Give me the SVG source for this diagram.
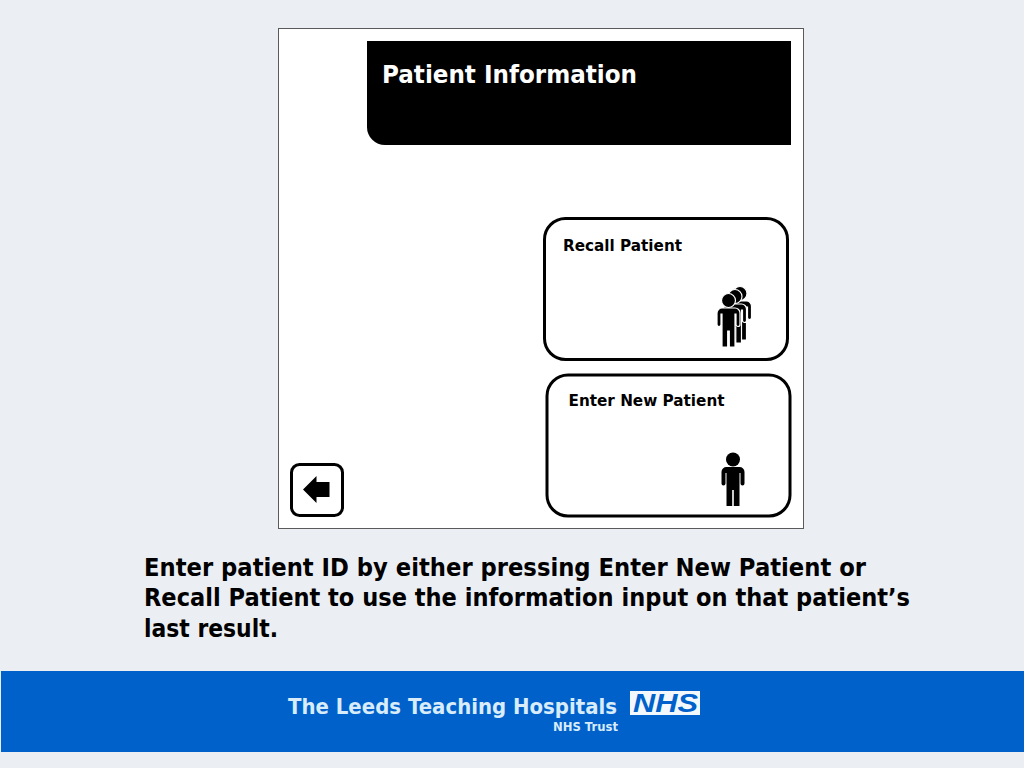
<svg xmlns="http://www.w3.org/2000/svg" width="1024" height="768" viewBox="0 0 1024 768">
<style>
text{font-family:"DejaVu Sans","Liberation Sans",sans-serif;font-weight:700}
.b{fill:#fff;stroke:#000;stroke-width:3}
.cap{font-size:24.5px;fill:#000}
.foot{fill:#d8ecfa}
</style>
<defs>
<g id="person"><circle cx="0" cy="-46.500" r="7"/><path d="M-11.500-34A5 5 0 0 1-6.500-39H6.500A5 5 0 0 1 11.500-34V-22.500A2 2 0 0 1 7.500-22.500V-33H6.500V0H.8V-16H-.8V0H-6.500V-33H-7.500V-22.500A2 2 0 0 1-11.500-22.500Z"/></g>
</defs>
<rect width="1024" height="768" fill="#ebeff3"/>
<g id="screen">
<rect x="278.500" y="28.500" width="525" height="500" fill="#fff" stroke="#5a5a5a"/>
</g>
<g id="header">
<path d="M367 41H791V145H385A18 18 0 0 1 367 127Z" fill="#000"/>
<text x="382" y="82.500" font-size="24.500" fill="#fff" textLength="255" lengthAdjust="spacingAndGlyphs">Patient Information</text>
</g>
<g id="recall">
<rect class="b" x="544.500" y="218.500" width="243" height="141" rx="21"/>
<text x="563" y="250.500" font-size="16.500" textLength="119" lengthAdjust="spacingAndGlyphs">Recall Patient</text>
<g stroke="#fff" stroke-width="1.200">
<use href="#person" x="740" y="340"/>
<use href="#person" x="735" y="343"/>
<use href="#person" x="728.500" y="347"/>
</g>
</g>
<g id="new">
<rect class="b" x="547" y="375" width="243" height="141" rx="21"/>
<text x="568.500" y="405.500" font-size="16.500" textLength="156" lengthAdjust="spacingAndGlyphs">Enter New Patient</text>
<use href="#person" x="733" y="506"/>
</g>
<g id="back">
<rect x="291.500" y="464.500" width="51" height="51" rx="8" fill="#fff" stroke="#000" stroke-width="3"/>
<path d="M303 489.500L316.500 476V482H329.500V497H316.500V503Z" fill="#000"/>
</g>
<g id="caption">
<text class="cap" x="144" y="575.500" textLength="722" lengthAdjust="spacingAndGlyphs">Enter patient ID by either pressing Enter New Patient or</text>
<text class="cap" x="144" y="606" textLength="766" lengthAdjust="spacingAndGlyphs">Recall Patient to use the information input on that patient’s</text>
<text class="cap" x="144" y="636.500" textLength="134" lengthAdjust="spacingAndGlyphs">last result.</text>
</g>
<g id="footer">
<rect x="1" y="671" width="1023" height="81" fill="#0061cb"/>
<text class="foot" x="288" y="714" font-size="20.500" textLength="329" lengthAdjust="spacingAndGlyphs">The Leeds Teaching Hospitals</text>
<text class="foot" x="553" y="731" font-size="11.500" textLength="65" lengthAdjust="spacingAndGlyphs">NHS Trust</text>
<rect x="630" y="691" width="70" height="24" fill="#f2f8fc"/>
<text x="633" y="712" font-size="25" font-style="italic" fill="#0061cb" style="font-family:'Liberation Sans',sans-serif" textLength="65" lengthAdjust="spacingAndGlyphs">NHS</text>
</g>
</svg>
